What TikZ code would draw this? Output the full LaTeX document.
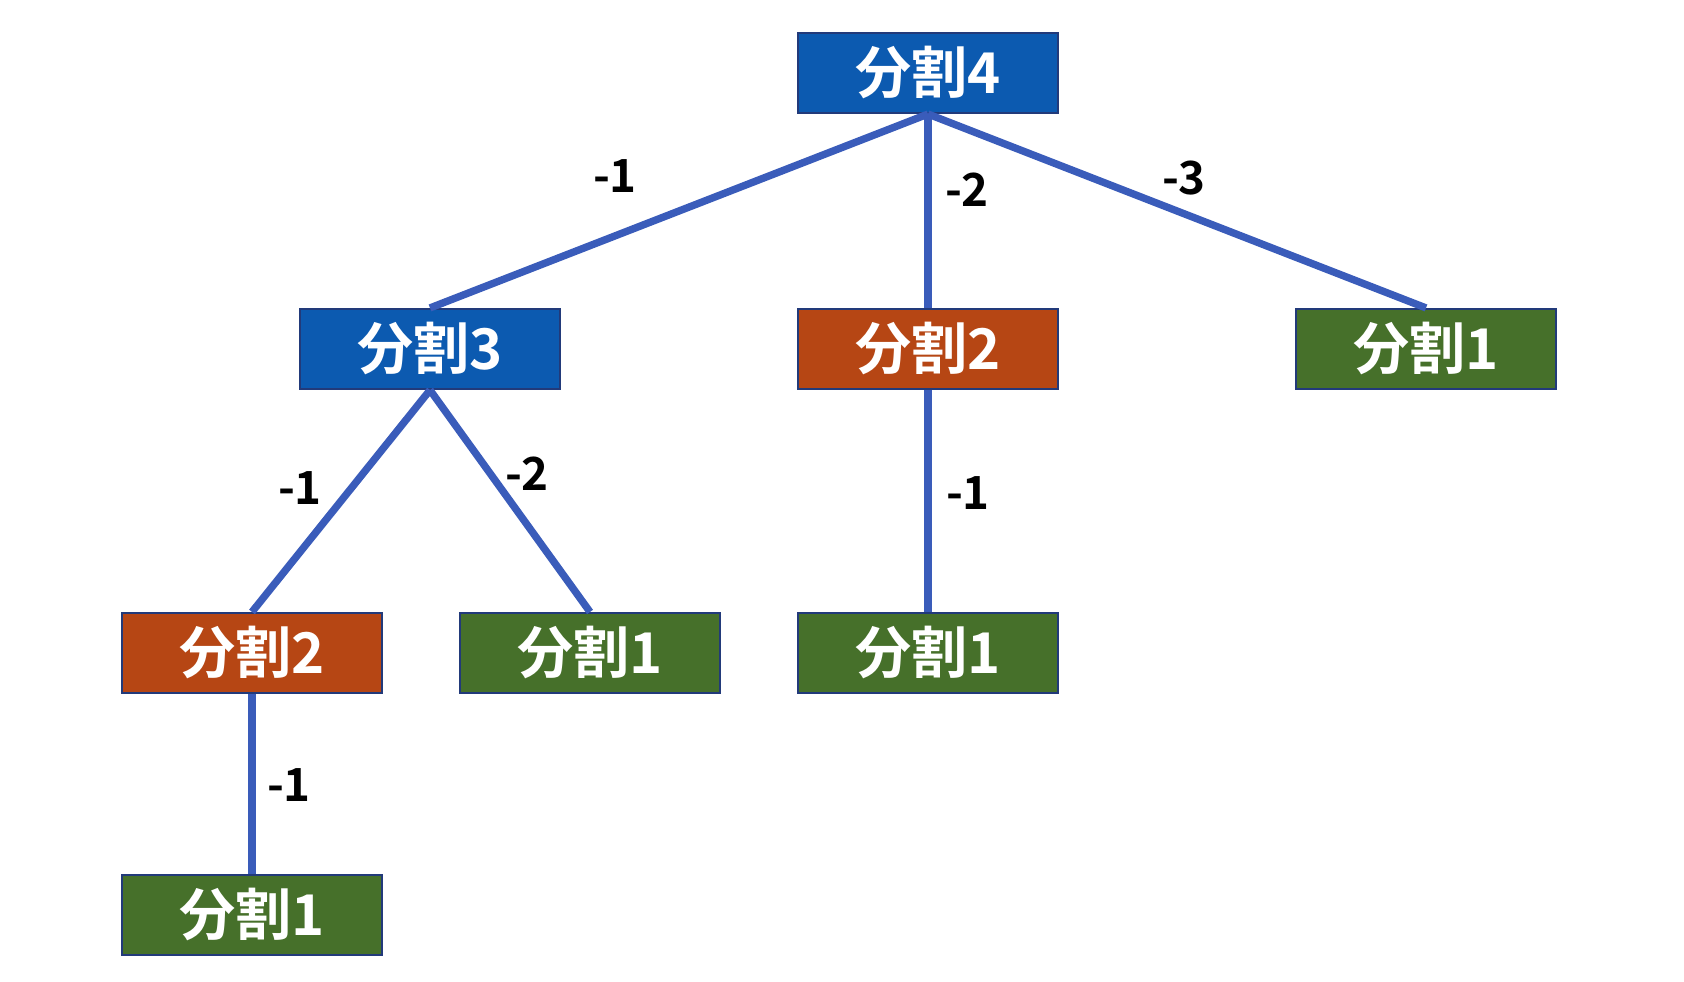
\documentclass[tikz,border=0pt]{standalone}
\usepackage{fontspec}
\usepackage{xcolor}
\newfontfamily\cjk{Noto Sans CJK JP}[BoldFont={Noto Sans CJK JP Bold}]
\definecolor{splitBlue}{RGB}{12,90,176}
\definecolor{splitRed}{RGB}{182,70,20}
\definecolor{splitGreen}{RGB}{70,112,42}
\definecolor{edgeBlue}{RGB}{34,58,122}
\definecolor{linkBlue}{RGB}{58,92,186}

\begin{document}
\begin{tikzpicture}[x=0.02cm, y=-0.02cm,
    box/.style={draw=edgeBlue, line width=1.2pt, minimum width=5.2cm, minimum height=1.6cm,
      inner sep=0pt, text=white, font=\cjk\bfseries\fontsize{32}{32}\selectfont},
    lbl/.style={inner sep=0pt, font=\cjk\bfseries\fontsize{26}{26}\selectfont},
    link/.style={draw=linkBlue, line width=4.2pt}]
        \useasboundingbox (0,0) rectangle (1684,982);

        \node[box, fill=splitBlue] (A) at (928,73) {分割4};
        \node[box, fill=splitBlue] (B) at (430,349) {分割3};
        \node[box, fill=splitRed] (C) at (928,349) {分割2};
        \node[box, fill=splitGreen] (D) at (1426,349) {分割1};
        \node[box, fill=splitRed] (E) at (252,653) {分割2};
        \node[box, fill=splitGreen] (F) at (590,653) {分割1};
        \node[box, fill=splitGreen] (G) at (928,653) {分割1};
        \node[box, fill=splitGreen] (H) at (252,915) {分割1};

        \draw[link] (A.south) -- (B.north);
        \draw[link] (A.south) -- (C.north);
        \draw[link] (A.south) -- (D.north);
        \draw[link] (B.south) -- (E.north);
        \draw[link] (B.south) -- (F.north);
        \draw[link] (C.south) -- (G.north);
        \draw[link] (E.south) -- (H.north);

        \node[lbl] (AB) at (615,176) {-1};
        \node[lbl] (AC) at (967,190) {-2};
        \node[lbl] (AD) at (1184,178) {-3};
        \node[lbl] (BE) at (300,488) {-1};
        \node[lbl] (BF) at (527,474) {-2};
        \node[lbl] (CG) at (968,493) {-1};
        \node[lbl] (EH) at (289,785) {-1};
      \end{tikzpicture}
\end{document}
